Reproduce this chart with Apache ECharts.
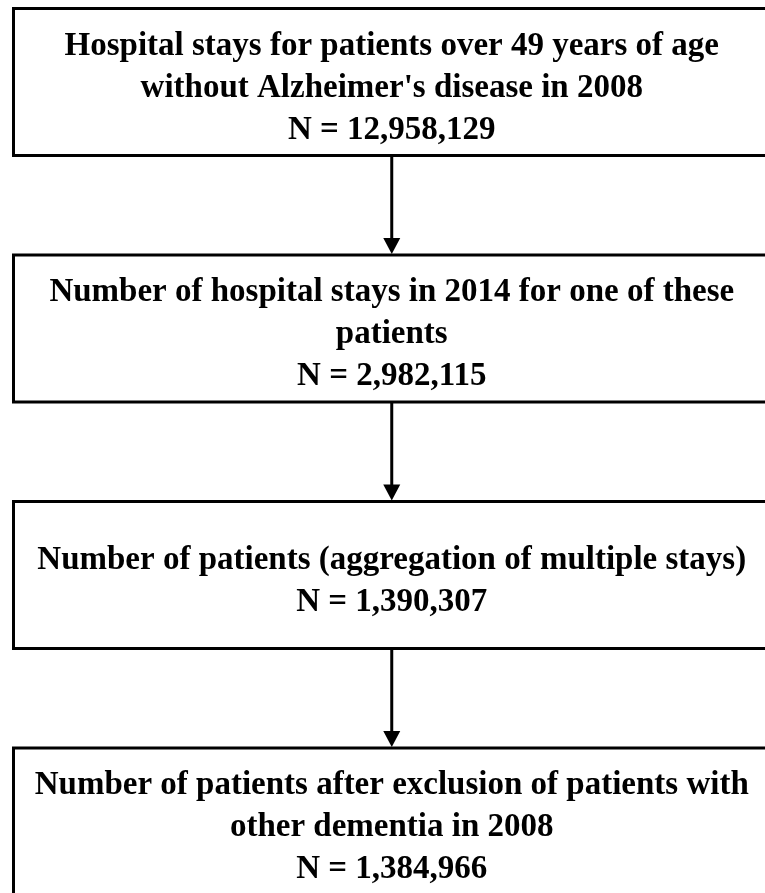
<!DOCTYPE html>
<html>
<head>
<meta charset="utf-8">
<script src="https://cdn.jsdelivr.net/npm/echarts@6/dist/echarts.min.js"></script>
<style>
  html, body { margin: 0; padding: 0; background: #fff; }
  #chart { width: 765px; height: 893px; }
</style>
</head>
<body>
<div id="chart"></div>
<script>
// flow steps, top to bottom
var stepLabels = [
  "Hospital stays for patients over 49 years of age\nwithout Alzheimer's disease in 2008",
  "Number of hospital stays in 2014 for one of these\npatients",
  "Number of patients (aggregation of multiple stays)",
  "Number of patients after exclusion of patients with\nother dementia in 2008"
];
var stepCounts = [12958129, 2982115, 1390307, 1384966];
var stepIndex = [0, 1, 2, 3];

var chart = echarts.init(document.getElementById('chart'));

function renderItem(params, api) {
  var i = api.value(1);
  var c = api.coord([0.5, i]);
  var band = api.size([0, 1])[1];
  var boxH = 147;
  var left = 13.5, right = 770;
  var cx = (left + right) / 2;
  var top = c[1] - boxH / 2;
  var children = [
    {
      type: 'rect',
      shape: { x: left, y: top, width: right - left, height: boxH },
      style: { fill: '#fff', stroke: '#000', lineWidth: 3 }
    },
    {
      type: 'text',
      style: {
        text: stepLabels[i] + '\nN = ' + stepCounts[i].toLocaleString('en-US'),
        x: cx,
        y: c[1] + 6,
        align: 'center',
        verticalAlign: 'middle',
        fontFamily: '"Liberation Serif", "Times New Roman", serif',
        fontWeight: 'bold',
        fontSize: 33,
        lineHeight: 42,
        fill: '#000'
      }
    }
  ];
  if (i < stepLabels.length - 1) {
    var nextTop = c[1] + band - boxH / 2;
    children.push({
      type: 'line',
      shape: { x1: cx, y1: top + boxH, x2: cx, y2: nextTop - 14 },
      style: { stroke: '#000', lineWidth: 3 }
    });
    children.push({
      type: 'polygon',
      shape: { points: [[cx - 8.5, nextTop - 17], [cx + 8.5, nextTop - 17], [cx, nextTop - 1]] },
      style: { fill: '#000' }
    });
  }
  return { type: 'group', children: children };
}

chart.setOption({
  animation: false,
  backgroundColor: '#fff',
  grid: { left: 0, right: 0, top: 0, bottom: 0 },
  xAxis: { type: 'value', min: 0, max: 1, show: false },
  // step i sits at its own row; range chosen so rows are ~246px apart
  yAxis: { type: 'value', inverse: true, min: -0.333, max: 3.29, show: false },
  series: [{
    type: 'custom',
    clip: false,
    renderItem: renderItem,
    data: stepIndex.map(function (i) { return [0.5, i]; }),
    encode: { x: 0, y: 1 }
  }]
});
</script>
</body>
</html>
